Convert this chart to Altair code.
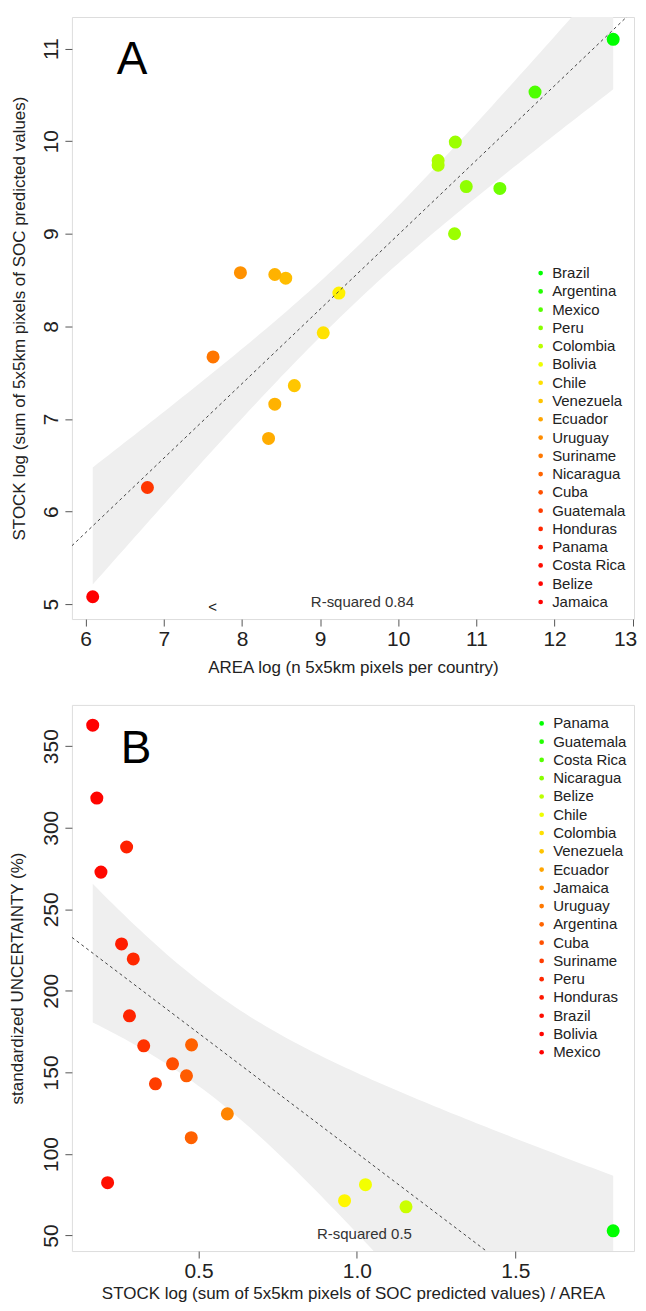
import altair as alt
import numpy as np
import pandas as pd

# ---------------- data ----------------
countries_a = ["Brazil", "Argentina", "Mexico", "Peru", "Colombia", "Bolivia", "Chile",
               "Venezuela", "Ecuador", "Uruguay", "Suriname", "Nicaragua", "Cuba",
               "Guatemala", "Honduras", "Panama", "Costa Rica", "Belize", "Jamaica"]
area_log = [12.75, 11.75, 11.30, 10.87, 10.73, 10.72, 10.51, 10.51, 9.24, 9.04,
            8.67, 8.56, 8.42, 8.42, 8.34, 7.98, 7.63, 6.79, 6.09]
stock_log = [11.10, 10.53, 9.49, 9.51, 9.99, 9.00, 9.79, 9.74, 8.36, 7.93,
             7.36, 8.52, 8.56, 7.16, 6.79, 8.58, 7.67, 6.26, 5.08]

countries_b = ["Panama", "Guatemala", "Costa Rica", "Nicaragua", "Belize", "Chile",
               "Colombia", "Venezuela", "Ecuador", "Jamaica", "Uruguay", "Argentina",
               "Cuba", "Suriname", "Peru", "Honduras", "Brazil", "Bolivia", "Mexico"]
stock_per_area = [1.809, 1.155, 1.027, 0.961, 0.591, 0.478, 0.477, 0.462, 0.418, 0.364,
                  0.327, 0.294, 0.282, 0.273, 0.257, 0.213, 0.192, 0.179, 0.166]
uncertainty = [52.9, 67.6, 81.2, 71.4, 124.6, 166.9, 110.0, 147.9, 155.3, 143.0,
               166.3, 219.6, 184.7, 288.2, 228.8, 82.4, 272.8, 318.2, 362.9]

x_ticks_a = [6, 7, 8, 9, 10, 11, 12, 13]
y_ticks_a = [5, 6, 7, 8, 9, 10, 11]
x_ticks_b = [0.5, 1.0, 1.5]
y_ticks_b = [50, 100, 150, 200, 250, 300, 350]

legend_colors = ["#00ff00", "#22ff00", "#55ff00", "#88ff00", "#bbff00", "#eeff00",
                 "#ffe000", "#ffc400", "#ffa500", "#ff8c00", "#ff7800", "#ff6400",
                 "#ff5000", "#ff3c00", "#ff2800", "#ff1800", "#ff0c00", "#ff0400",
                 "#ff0000"]
ramp = ["#ff0000", "#ffff00", "#00ff00"]

FONT = "Liberation Sans"
T_975_17 = 2.1098  # Student t quantile, 17 df


def expand(v, f=0.04):
    lo, hi = min(v), max(v)
    r = hi - lo
    return [lo - f * r, hi + f * r]


def fit_frames(x, y, dom):
    x = np.asarray(x, float)
    y = np.asarray(y, float)
    n = len(x)
    b1, b0 = np.polyfit(x, y, 1)
    res = y - (b0 + b1 * x)
    s = np.sqrt((res ** 2).sum() / (n - 2))
    xm = x.mean()
    sxx = ((x - xm) ** 2).sum()
    g = np.linspace(x.min(), x.max(), 100)
    se = s * np.sqrt(1.0 / n + (g - xm) ** 2 / sxx)
    band = pd.DataFrame({"x": g, "y": b0 + b1 * g - T_975_17 * se,
                         "y2": b0 + b1 * g + T_975_17 * se})
    line = pd.DataFrame({"x": dom, "y": [b0 + b1 * d for d in dom]})
    return band, line


def panel(names, xv, yv, xticks, yticks, xfmt, xtitle, ytitle, w, h,
          letter, letter_xy, r2text, r2_xy, legend_xy, ytitle_pad, xtitle_pad,
          extra=None):
    df = pd.DataFrame({"name": names, "x": xv, "y": yv})
    xdom = expand(xv)
    ydom = expand(yv)
    band_df, line_df = fit_frames(xv, yv, xdom)
    xs = alt.Scale(domain=xdom, nice=False, zero=False)
    ys = alt.Scale(domain=ydom, nice=False, zero=False)
    X = alt.X("x:Q", scale=xs, axis=alt.Axis(
        values=xticks, format=xfmt, title=xtitle, labelFontSize=21, titleFontSize=17,
        tickSize=7, tickColor="#555", labelColor="#222", titleColor="#222",
        domain=False, grid=False, labelPadding=2, titlePadding=xtitle_pad,
        titleFontWeight="normal", labelFlush=2, labelFlushOffset=4,
        labelOverlap=False))
    Y = alt.Y("y:Q", scale=ys, axis=alt.Axis(
        values=yticks, title=ytitle, labelFontSize=21, titleFontSize=17,
        tickSize=7, tickColor="#555", labelColor="#222", titleColor="#222",
        domain=False, grid=False, labelAngle=270, labelAlign="center",
        labelBaseline="alphabetic", labelPadding=7, titlePadding=ytitle_pad,
        titleFontWeight="normal", labelFlush=False, labelOverlap=False))

    band = alt.Chart(band_df).mark_area(color="#efefef", clip=True).encode(
        x=X, y=Y, y2="y2:Q")
    leg = alt.Chart(df).mark_circle(opacity=0, size=20).encode(
        x=X, y=Y,
        color=alt.Color("name:N", scale=alt.Scale(domain=names, range=legend_colors),
                        legend=alt.Legend(orient="none", legendX=legend_xy[0],
                                          legendY=legend_xy[1], title=None,
                                          symbolType="circle", symbolSize=22,
                                          symbolOpacity=1, symbolStrokeWidth=0,
                                          labelFontSize=15, labelColor="#222",
                                          labelFont=FONT, rowPadding=2.3, padding=0,
                                          labelOffset=4, labelLimit=200)))
    lo, hi = min(xv), max(xv)
    pts = alt.Chart(df).mark_circle(size=170, opacity=1, strokeWidth=0).encode(
        x=X, y=Y,
        fill=alt.Fill("x:Q", scale=alt.Scale(domain=[lo, (lo + hi) / 2, hi], range=ramp,
                                             interpolate="rgb"), legend=None))
    line = alt.Chart(line_df).mark_line(color="#444", strokeWidth=1, strokeDash=[3, 3],
                                        clip=True).encode(x=X, y=Y)
    lt = alt.Chart(pd.DataFrame({"t": [letter]})).mark_text(
        fontSize=46, align="left", baseline="alphabetic", color="#000", font=FONT).encode(
        x=alt.value(letter_xy[0]), y=alt.value(letter_xy[1]), text="t:N")
    r2 = alt.Chart(pd.DataFrame({"t": [r2text]})).mark_text(
        fontSize=15, align="center", baseline="middle", color="#333", font=FONT).encode(
        x=alt.value(r2_xy[0]), y=alt.value(r2_xy[1]), text="t:N")
    layers = [band, leg, pts, line, lt, r2]
    if extra is not None:
        layers.append(extra)
    return alt.layer(*layers).properties(width=w, height=h)


lt_mark = alt.Chart(pd.DataFrame({"t": ["<"]})).mark_text(
    fontSize=15, align="center", baseline="middle", color="#222", font=FONT).encode(
    x=alt.value(141), y=alt.value(591), text="t:N")

chart_a = panel(countries_a, area_log, stock_log, x_ticks_a, y_ticks_a, "d",
                "AREA log (n 5x5km pixels per country)",
                "STOCK log (sum of 5x5km pixels of SOC predicted values)",
                563, 603, "A", (45, 57), "R-squared 0.84", (291, 586), (462, 249), 12, 11,
                extra=lt_mark)
chart_b = panel(countries_b, stock_per_area, uncertainty, x_ticks_b, y_ticks_b, ".1f",
                "STOCK log (sum of 5x5km pixels of SOC predicted values) / AREA",
                "standardized UNCERTAINTY (%)",
                563, 547, "B", (49, 58), "R-squared 0.5", (293, 530), (463, 11), 14, 5)

chart = alt.vconcat(chart_a, chart_b, spacing=27).resolve_scale(
    color="independent", fill="independent"
).properties(
    padding={"left": 0, "top": 7, "right": 0, "bottom": 0}
).configure_view(stroke="#666", strokeWidth=1).configure(font=FONT)

chart.save("out.html", embed_options={"renderer": "svg", "actions": False})
